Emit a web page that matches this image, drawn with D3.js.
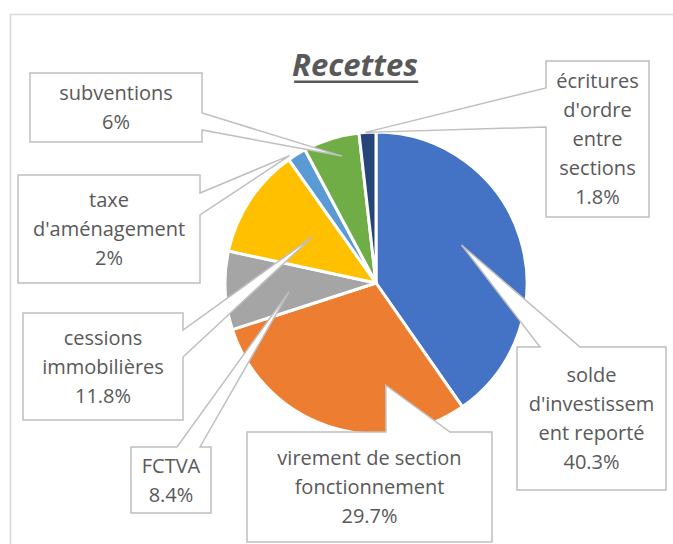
<!DOCTYPE html>
<html>
<head>
<meta charset="utf-8">
<script src="https://cdn.jsdelivr.net/npm/d3@7"></script>
<style>
  body { margin: 0; background: #fff; }
  svg { display: block; font-family: "Open Sans", sans-serif; }
</style>
</head>
<body>
<div id="chart"></div>
<script>
//////////////////////////// data /////////////////////////////////////////

const categories = [
  "solde d'investissement reporté",
  "virement de section fonctionnement",
  "FCTVA",
  "cessions immobilières",
  "taxe d'aménagement",
  "subventions",
  "écritures d'ordre entre sections"
];
const values = [40.3, 29.7, 8.4, 11.8, 2, 6, 1.8];
const valueLabels = ["40.3%", "29.7%", "8.4%", "11.8%", "2%", "6%", "1.8%"];
const colors = ["#4472C4", "#ED7D31", "#A5A5A5", "#FFC000", "#5B9BD5", "#70AD47", "#264478"];

// label lines as Excel wrapped them
const labelLines = [
  ["solde", "d'investissem", "ent reporté"],
  ["virement de section", "fonctionnement"],
  ["FCTVA"],
  ["cessions", "immobilières"],
  ["taxe", "d'aménagement"],
  ["subventions"],
  ["écritures", "d'ordre", "entre", "sections"]
];

//////////////////////////// layout ///////////////////////////////////////

const width = 673;
const height = 544;
const cx = 376, cy = 283, radius = 151;

// callout boxes: rect, side of the pointer, pointer base,
// tip = offset (degrees) from slice mid angle, radius fraction
const callouts = [
  { x: 517, y: 347, w: 149, h: 143, side: "top", b1: 540, b2: 580, off: -6.5, k: 0.62 },
  { x: 247, y: 432, w: 245, h: 110, side: "top", b1: 386, b2: 450, off: -24, k: 0.68 },
  { x: 131, y: 447, w: 80, h: 66, side: "top", b1: 177, b2: 200, off: -3, k: 0.58 },
  { x: 23, y: 313, w: 160, h: 107, side: "right", b1: 330, b2: 357, off: 2.5, k: 0.52 },
  { x: 18, y: 175, w: 182, h: 108, side: "right", b1: 193, b2: 215, off: -2.5, k: 1.02 },
  { x: 30, y: 73, w: 172, h: 69, side: "right", b1: 113, b2: 130, off: 2.3, k: 0.87 },
  { x: 546, y: 61, w: 103, h: 156, side: "left", b1: 88, b2: 127, off: -0.8, k: 1.0 }
];

//////////////////////////// svg //////////////////////////////////////////

const svg = d3.select("#chart").append("svg")
  .attr("width", width)
  .attr("height", height);

// chart frame
svg.append("rect")
  .attr("x", 10.5).attr("y", 14.5)
  .attr("width", width + 20).attr("height", height + 20)
  .attr("fill", "none")
  .attr("stroke", "#D9D9D9")
  .attr("stroke-width", 1.5);

// title
const title = svg.append("text")
  .attr("x", 355)
  .attr("y", 76)
  .attr("text-anchor", "middle")
  .attr("font-size", 31)
  .attr("font-weight", "bold")
  .attr("font-style", "italic")
  .attr("fill", "#595959")
  .text("Recettes");
const tb = title.node().getBBox();
svg.append("rect")
  .attr("x", tb.x + 2).attr("y", 80.5)
  .attr("width", tb.width - 2).attr("height", 2.5)
  .attr("fill", "#595959");

//////////////////////////// pie //////////////////////////////////////////

const pie = d3.pie().sort(null).value(d => d)(values);
const arc = d3.arc().innerRadius(0).outerRadius(radius);

const g = svg.append("g").attr("transform", `translate(${cx},${cy})`);

g.selectAll("path.slice")
  .data(pie)
  .join("path")
  .attr("class", "slice")
  .attr("d", arc)
  .attr("fill", (d, i) => colors[i])
  .attr("stroke", "#fff")
  .attr("stroke-width", 3)
  .attr("stroke-linejoin", "round");

//////////////////////////// callouts /////////////////////////////////////

const tipOf = (d, c) => {
  const a = (d.startAngle + d.endAngle) / 2 + c.off * Math.PI / 180;
  const r = c.k * radius;
  return [cx + r * Math.sin(a), cy - r * Math.cos(a)];
};

const calloutPath = (c, tip) => {
  const { x, y, w, h } = c;
  let pts;
  if (c.side === "top") {
    pts = [[x, y], [c.b1, y], tip, [c.b2, y], [x + w, y], [x + w, y + h], [x, y + h]];
  } else if (c.side === "right") {
    pts = [[x, y], [x + w, y], [x + w, c.b1], tip, [x + w, c.b2], [x + w, y + h], [x, y + h]];
  } else {
    pts = [[x, y], [x + w, y], [x + w, y + h], [x, y + h], [x, c.b2], tip, [x, c.b1]];
  }
  return "M" + pts.map(p => p.join(",")).join("L") + "Z";
};

const lineH = 29;

pie.forEach((d, i) => {
  const c = callouts[i];
  const tip = tipOf(d, c);
  svg.append("path")
    .attr("d", calloutPath(c, tip))
    .attr("fill", "#fff")
    .attr("stroke", "#BFBFBF")
    .attr("stroke-width", 1.5);

  const lines = labelLines[i].concat([valueLabels[i]]);
  const midY = c.y + c.h / 2;
  const t = svg.append("text")
    .attr("text-anchor", "middle")
    .attr("font-size", 20)
    .attr("fill", "#595959");
  lines.forEach((s, j) => {
    t.append("tspan")
      .attr("x", c.x + c.w / 2)
      .attr("y", midY + (j - (lines.length - 1) / 2) * lineH + 7)
      .text(s);
  });
});
</script>
</body>
</html>
